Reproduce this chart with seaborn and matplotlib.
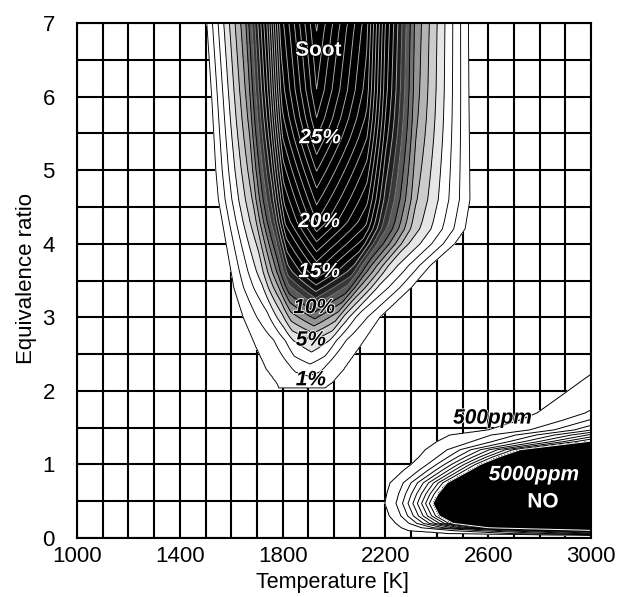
import numpy as np
import matplotlib
matplotlib.use("Agg")
import matplotlib.pyplot as plt
import matplotlib.patheffects as pe
import seaborn as sns

# ---------------- data ----------------
# Soot: 1 % iso-line (left / right edge) and centre line vs equivalence ratio
soot_phi      = [2.0, 2.1, 2.3, 2.6, 3.0, 3.4, 3.7, 4.0, 4.2, 4.6, 5.0, 6.0, 7.0]
soot_T_left   = [1790, 1777, 1735, 1695, 1646, 1610, 1595, 1580, 1570, 1550, 1540, 1524, 1505]
soot_T_right  = [1950, 1990, 2040, 2101, 2179, 2300, 2374, 2470, 2510, 2529, 2528, 2525, 2523]
soot_T_center = [1880, 1890, 1905, 1915, 1925, 1930, 1932, 1932, 1932, 1932, 1932, 1932, 1932]
# Soot yield [%] on the centre line
peak_phi  = [1.5, 2.04, 2.69, 3.17, 3.62, 4.30, 5.44, 5.71, 6.09, 6.88, 7.0]
peak_soot = [0.0, 1.0, 5.0, 10.0, 15.0, 20.0, 25.0, 26.0, 27.0, 28.0, 28.2]
# Cross-section shape: relative distance from centre -> fraction of peak
profile_d = [0.0, 0.33, 0.45, 0.65, 1.0]
profile_h = [1.0, 0.75, 0.52, 0.25, 0.0]
soot_levels = list(range(1, 29))

# NO: 500 ppm and 5000 ppm iso-lines (temperature vs equivalence ratio)
no_phi   = [0.0, 0.03, 0.06, 0.1, 0.14, 0.2, 0.3, 0.47, 0.6, 0.75, 0.92, 1.0, 1.1, 1.2,
            1.31, 1.4, 1.47, 1.6, 1.7, 1.85, 2.0, 2.15, 2.25, 2.5]
no_T500  = [3600, 3100, 2450, 2290, 2262, 2240, 2215, 2198, 2205, 2218, 2270, 2300, 2330, 2355,
            2400, 2450, 2600, 2720, 2790, 2850, 2910, 2969, 3010, 3300]
no_T5000 = [5000, 4200, 3500, 3050, 2600, 2463, 2410, 2385, 2405, 2440, 2529, 2570, 2640, 2724,
            2984, 3150, 3300, 3450, 3600, 3750, 3900, 4000, 4100, 4500]
no_levels = [500, 1000, 1500, 2000, 2500, 3000, 3500, 4000, 4500, 5000]

# annotations (text, T, phi, colour, style)
soot_labels = [("Soot", 1940, 6.63, "white", "normal"),
               ("25%", 1946, 5.44, "white", "italic"),
               ("20%", 1942, 4.30, "white", "italic"),
               ("15%", 1942, 3.62, "white", "italic"),
               ("10%", 1923, 3.13, "black", "italic"),
               ("5%", 1910, 2.69, "black", "italic"),
               ("1%", 1910, 2.15, "black", "italic")]
no_labels = [("500ppm", 2617, 1.63, "black", "italic"),
             ("5000ppm", 2778, 0.86, "white", "italic"),
             ("NO", 2813, 0.49, "white", "normal")]

# ---------------- fields ----------------
T = np.linspace(1000, 3000, 801)
PHI = np.linspace(0, 7, 701)
TT, PP = np.meshgrid(T, PHI)

tl = np.interp(PP, soot_phi, soot_T_left)
tr = np.interp(PP, soot_phi, soot_T_right)
tc = np.interp(PP, soot_phi, soot_T_center)
d = np.where(TT < tc, (tc - TT) / (tc - tl), (TT - tc) / (tr - tc))
h = np.interp(d, profile_d, profile_h)
peak = np.interp(PP, peak_phi, peak_soot)
S = np.where(peak >= 1, 1 + (peak - 1) * h, peak) - np.clip(d - 1, 0, None) * 20

t500 = np.interp(PP, no_phi, no_T500)
t5000 = np.interp(PP, no_phi, no_T5000)
u = (TT - t500) / (t5000 - t500)
N = 500 + 4500 * np.sign(u) * np.abs(u) ** 1.5

# ---------------- plot ----------------
sns.set_theme(style="white")
plt.rcParams['font.family'] = ['Liberation Sans', 'DejaVu Sans']

fig = plt.figure(figsize=(6.19, 5.97), dpi=100)
ax = fig.add_axes([0.1244, 0.0988, 0.8304, 0.8627])


def band_gray(v):
    table = {4: 0.9, 5: 0.8, 6: 0.7, 7: 0.58, 8: 0.45, 9: 0.35, 10: 0.22, 11: 0.12, 12: 0.05}
    if v < 4:
        return 1.0
    return table.get(v, 0.0)


band_colors = [str(band_gray(v)) for v in soot_levels]
ax.contourf(T, PHI, S, levels=soot_levels + [100], colors=band_colors, zorder=2)
line_colors = ['black' if v <= 9 else ('0.5' if v <= 11 else '0.7') for v in soot_levels]
ax.contour(T, PHI, S, levels=soot_levels, colors=line_colors, linewidths=0.65, zorder=3)

no_fill = ['white'] * (len(no_levels) - 1) + ['black']
ax.contourf(T, PHI, N, levels=no_levels + [1e9], colors=no_fill, zorder=2)
ax.contour(T, PHI, N, levels=no_levels[:-1], colors='black', linewidths=0.7, zorder=3)
ax.contour(T, PHI, N, levels=[5000], colors='white', linewidths=0.7, zorder=3)

for txt, tx, py, col, sty in soot_labels + no_labels:
    stroke = 'black' if col == 'white' else 'white'
    ax.text(tx, py, txt, color=col, fontsize=15, fontweight='bold', fontstyle=sty,
            ha='center', va='center', zorder=5,
            path_effects=[pe.withStroke(linewidth=1.2, foreground=stroke)])

ax.set_xlim(1000, 3000)
ax.set_ylim(0, 7)
ax.set_xticks(np.arange(1000, 3001, 400))
ax.set_xticks(np.arange(1000, 3001, 100), minor=True)
ax.set_yticks(np.arange(0, 8, 1))
ax.set_yticks(np.arange(0, 7.01, 0.5), minor=True)
ax.grid(True, which='both', color='black', linewidth=1.5)
ax.set_axisbelow(True)
ax.tick_params(axis='both', which='both', length=0, labelsize=16, colors='black')
ax.tick_params(axis='x', pad=6)
ax.tick_params(axis='y', pad=16)
for sp in ax.spines.values():
    sp.set_color('black')
    sp.set_linewidth(1.5)
    sp.set_zorder(6)

ax.set_xlabel("Temperature [K]", fontsize=15.5, color='black')
ax.set_ylabel("Equivalence ratio", fontsize=16, color='black')
ax.xaxis.set_label_coords(0.496, -0.066)
ax.yaxis.set_label_coords(-0.078, 0.503)

fig.savefig("out.png", dpi=100)
